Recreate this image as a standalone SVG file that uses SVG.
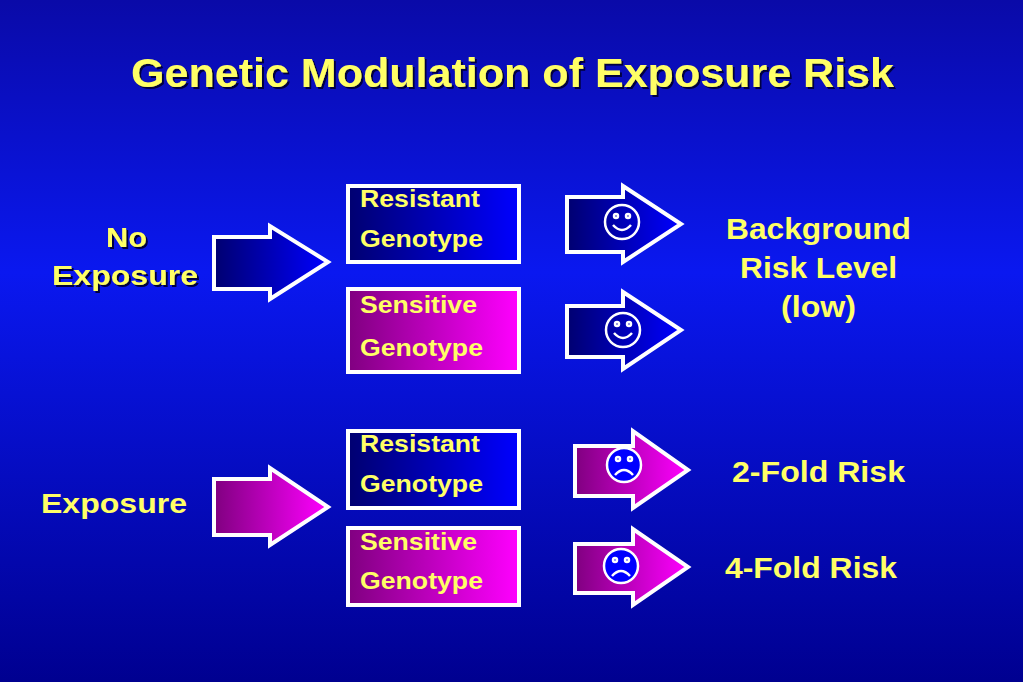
<svg xmlns="http://www.w3.org/2000/svg" width="1023" height="682" viewBox="0 0 1023 682">
<defs>
<linearGradient id="bg" x1="0" y1="0" x2="0" y2="1">
<stop offset="0" stop-color="#0a0aa8"/><stop offset="0.4" stop-color="#0a18f0"/><stop offset="1" stop-color="#000090"/>
</linearGradient>
<linearGradient id="blu" x1="0" y1="0" x2="1" y2="0"><stop offset="0" stop-color="#000070"/><stop offset="1" stop-color="#0000ff"/></linearGradient>
<linearGradient id="mag" x1="0" y1="0" x2="1" y2="0"><stop offset="0" stop-color="#800080"/><stop offset="1" stop-color="#ff00ff"/></linearGradient>
<filter id="sh"><feDropShadow dx="2" dy="2" stdDeviation="0.5" flood-color="#000040"/></filter>
<style>
text{font-family:"Liberation Sans",Arial,Helvetica,sans-serif;font-weight:bold;fill:#ffff66}
.s{stroke:#fff;stroke-width:4;stroke-linejoin:miter}
.f{fill:none;stroke:#fff;stroke-width:2.5}
</style>
</defs>
<rect width="1023" height="682" fill="url(#bg)"/>
<text x="131" y="87" font-size="40" textLength="763" lengthAdjust="spacingAndGlyphs" filter="url(#sh)">Genetic Modulation of Exposure Risk</text>
<g id="no-exposure"><text x="106" y="247" font-size="27" textLength="41" lengthAdjust="spacingAndGlyphs" filter="url(#sh)">No</text><text x="52" y="285" font-size="27" textLength="146" lengthAdjust="spacingAndGlyphs" filter="url(#sh)">Exposure</text></g>
<g id="exposure"><text x="41" y="513" font-size="27" textLength="146" lengthAdjust="spacingAndGlyphs">Exposure</text></g>
<g id="box1"><rect class="s" x="348" y="186" width="171" height="76" fill="url(#blu)"/><text x="360" y="207" font-size="24" textLength="120" lengthAdjust="spacingAndGlyphs">Resistant</text><text x="360" y="247" font-size="24" textLength="123" lengthAdjust="spacingAndGlyphs">Genotype</text></g>
<g id="box2"><rect class="s" x="348" y="289" width="171" height="83" fill="url(#mag)"/><text x="360" y="313" font-size="24" textLength="117" lengthAdjust="spacingAndGlyphs">Sensitive</text><text x="360" y="356" font-size="24" textLength="123" lengthAdjust="spacingAndGlyphs">Genotype</text></g>
<g id="box3"><rect class="s" x="348" y="431" width="171" height="77" fill="url(#blu)"/><text x="360" y="452" font-size="24" textLength="120" lengthAdjust="spacingAndGlyphs">Resistant</text><text x="360" y="492" font-size="24" textLength="123" lengthAdjust="spacingAndGlyphs">Genotype</text></g>
<g id="box4"><rect class="s" x="348" y="528" width="171" height="77" fill="url(#mag)"/><text x="360" y="550" font-size="24" textLength="117" lengthAdjust="spacingAndGlyphs">Sensitive</text><text x="360" y="589" font-size="24" textLength="123" lengthAdjust="spacingAndGlyphs">Genotype</text></g>
<g id="out1"><text x="726" y="239" font-size="30" textLength="185" lengthAdjust="spacingAndGlyphs">Background</text><text x="740" y="278" font-size="30" textLength="157" lengthAdjust="spacingAndGlyphs">Risk Level</text><text x="781" y="317" font-size="30" textLength="75" lengthAdjust="spacingAndGlyphs">(low)</text></g>
<g id="out2"><text x="732" y="482" font-size="30" textLength="173" lengthAdjust="spacingAndGlyphs">2-Fold Risk</text></g>
<g id="out3"><text x="725" y="578" font-size="30" textLength="172" lengthAdjust="spacingAndGlyphs">4-Fold Risk</text></g>
<g id="connectors">
<polygon class="s" fill="url(#blu)" points="214,237 270,237 270,226 328,262 270,299 270,289 214,289"/>
<polygon class="s" fill="url(#mag)" points="214,479 270,479 270,468 328,507 270,545 270,535 214,535"/>
<polygon class="s" fill="url(#blu)" points="567,197 623,197 623,186 681,224 623,262 623,252 567,252"/>
<polygon class="s" fill="url(#blu)" points="567,306 623,306 623,292 681,330 623,369 623,357 567,357"/>
<polygon class="s" fill="url(#mag)" points="575,446 633,446 633,431 688,470 633,508 633,496 575,496"/>
<polygon class="s" fill="url(#mag)" points="575,544 633,544 633,529 688,567 633,605 633,593 575,593"/>
</g>
<g id="faces">
<g transform="translate(622,222)"><circle class="f" r="17"/><circle class="f" cx="-6" cy="-6" r="2" stroke-width="1.8"/><circle class="f" cx="6" cy="-6" r="2" stroke-width="1.8"/><path class="f" d="M-9,3 Q0,13 9,3"/></g>
<g transform="translate(623,330)"><circle class="f" r="17"/><circle class="f" cx="-6" cy="-6" r="2" stroke-width="1.8"/><circle class="f" cx="6" cy="-6" r="2" stroke-width="1.8"/><path class="f" d="M-9,3 Q0,13 9,3"/></g>
<g transform="translate(624,465)"><circle r="17" fill="#0000ff" stroke="#fff" stroke-width="2.5"/><circle class="f" cx="-6" cy="-6" r="2" stroke-width="1.8"/><circle class="f" cx="6" cy="-6" r="2" stroke-width="1.8"/><path class="f" d="M-9,10 Q0,0 9,10"/></g>
<g transform="translate(621,566)"><circle r="17" fill="#0000ff" stroke="#fff" stroke-width="2.5"/><circle class="f" cx="-6" cy="-6" r="2" stroke-width="1.8"/><circle class="f" cx="6" cy="-6" r="2" stroke-width="1.8"/><path class="f" d="M-9,10 Q0,0 9,10"/></g>
</g>
</svg>
